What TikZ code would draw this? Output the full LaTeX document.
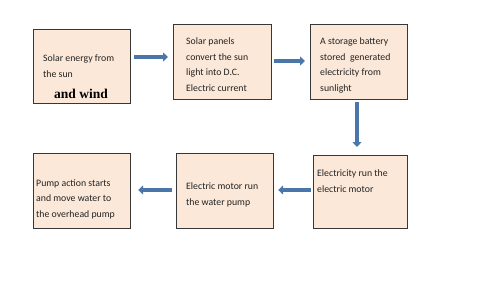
\documentclass[tikz,border=0pt]{standalone}
\usepackage{fontspec}
\setmainfont{Carlito}
\newfontfamily\serifb{Liberation Serif}
\usetikzlibrary{arrows.meta}
\definecolor{boxfill}{RGB}{252,232,216}
\definecolor{boxline}{RGB}{55,55,55}
\definecolor{arrowblue}{RGB}{74,118,170}
\definecolor{txt}{RGB}{35,35,35}
\tikzset{
  x=1pt,y=-1pt,
  box/.style={draw=boxline,line width=1.2pt,fill=boxfill,anchor=north west,inner sep=0pt},
  txtline/.style={anchor=base west,inner sep=0pt,text=txt,font=\fontsize{9.8}{16}\selectfont},
  flow/.style={draw=arrowblue,line width=3.6pt,-{Triangle[length=5pt,width=9pt]}},
}
\begin{document}
\begin{tikzpicture}
\useasboundingbox (0,0) rectangle (480,281);
\fill[white] (0,0) rectangle (480,281);
% boxes
\node[box,minimum width=97pt,minimum height=74pt] (b1) at (33,29) {};
\node[box,minimum width=98pt,minimum height=75pt] (b2) at (173,24) {};
\node[box,minimum width=97pt,minimum height=75pt] (b3) at (310,24) {};
\node[box,minimum width=94pt,minimum height=73pt] (b4) at (313,155) {};
\node[box,minimum width=97pt,minimum height=75pt] (b5) at (176,153) {};
\node[box,minimum width=97pt,minimum height=75pt] (b6) at (33,153) {};
% texts
\node[txtline] (t1a) at (43,61) {Solar energy from};
\node[txtline] (t1b) at (43,77) {the sun};
\node[anchor=base west,inner sep=0pt,font=\serifb\bfseries\fontsize{13.5}{16}\selectfont] (t1c) at (54,98) {and wind};
\node[txtline] (t2a) at (186,44) {Solar panels};
\node[txtline] (t2b) at (186,60) {convert the sun};
\node[txtline] (t2c) at (186,75) {light into D.C.};
\node[txtline] (t2d) at (186,91) {Electric current};
\node[txtline] (t3a) at (320,44) {A storage battery};
\node[txtline] (t3b) at (320,60) {stored\ \ generated};
\node[txtline] (t3c) at (320,75) {electricity from};
\node[txtline] (t3d) at (320,91) {sunlight};
\node[txtline] (t4a) at (317,176) {Electricity run the};
\node[txtline] (t4b) at (317,192) {electric motor};
\node[txtline] (t5a) at (186,189) {Electric motor run};
\node[txtline] (t5b) at (186,205) {the water pump};
\node[txtline] (t6a) at (36,186) {Pump action starts};
\node[txtline] (t6b) at (36,201) {and move water to};
\node[txtline] (t6c) at (36,217) {the overhead pump};
% arrows
\coordinate (a1s) at (133,57);
\coordinate (a1e) at (168,57);
\draw[flow] (b1.east |- a1s) ++(3,0) -- (b2.west |- a1e) [shorten >=5pt];
\draw[flow,shorten <=2pt,shorten >=5pt] (b2.east |- 0,61) -- (b3.west |- 0,61);
\draw[flow,shorten <=2pt,shorten >=8pt] (b3.south -| 357,0) -- (b4.north -| 357,0);
\draw[flow,shorten <=2pt,shorten >=4pt] (b4.west |- 0,190) -- (b5.east |- 0,190);
\draw[flow,shorten <=4pt,shorten >=7pt] (b5.west |- 0,190) -- (b6.east |- 0,190);
\end{tikzpicture}
\end{document}
